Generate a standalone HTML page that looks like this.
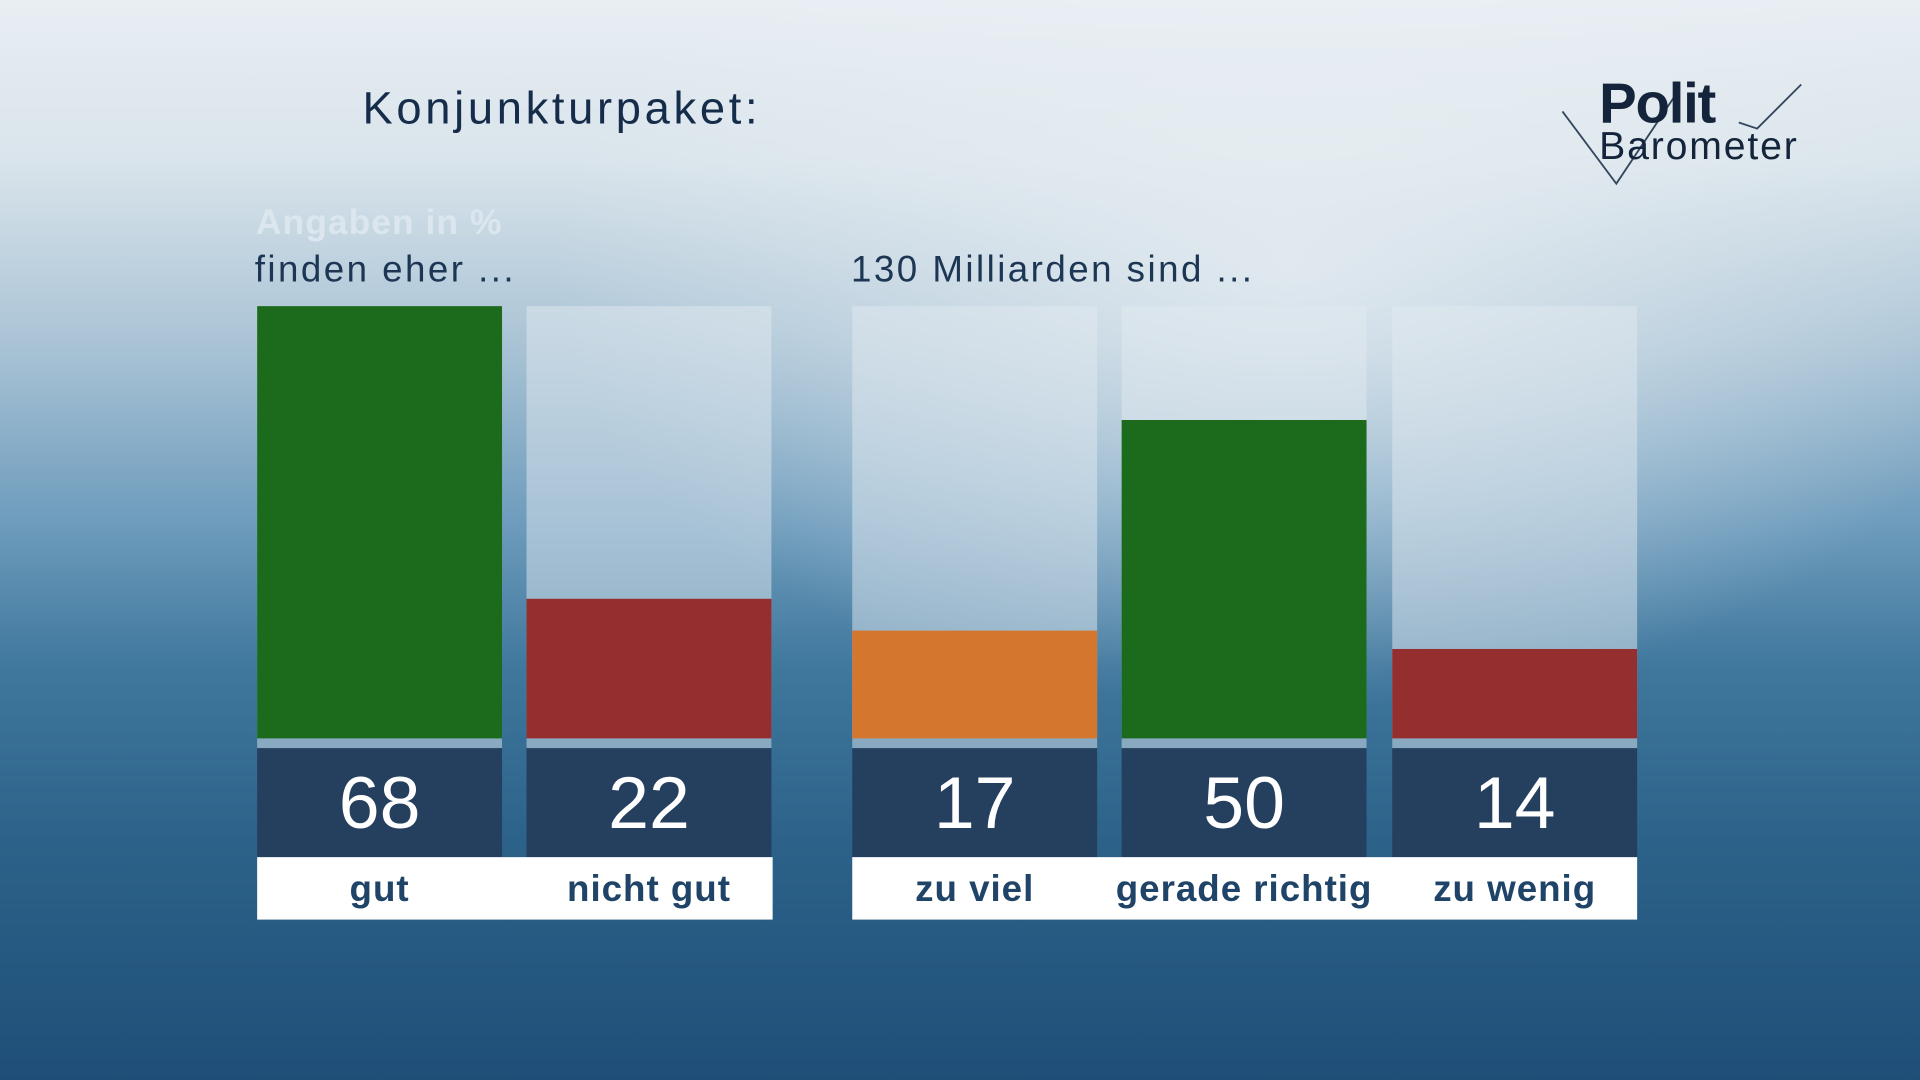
<!DOCTYPE html>
<html><head><meta charset="utf-8">
<style>
html,body{margin:0;padding:0;width:1920px;height:1080px;overflow:hidden;}
#stage{position:absolute;left:0;top:0;width:1568px;height:882px;transform:scale(1.2244898);transform-origin:0 0;
background:linear-gradient(180deg,#e8eef3 0%,#d9e4eb 15%,#a9c3d5 32%,#6f9dbd 48%,#3f779d 62%,#2c6289 78%,#1f4f78 100%);
font-family:"Liberation Sans",sans-serif;overflow:hidden;}
#glow{position:absolute;left:0;top:0;width:1568px;height:882px;
background:radial-gradient(ellipse 800px 480px at 1050px 220px,rgba(236,241,245,0.75),rgba(236,241,245,0) 75%);}
.t{position:absolute;white-space:nowrap;}
.panel{position:absolute;background:rgba(225,234,240,0.5);}
.strip{position:absolute;background:rgba(190,208,222,0.6);}
.bar{position:absolute;}
.num{position:absolute;background:#253f5e;color:#fff;font-size:60px;text-align:center;line-height:89px;}
.lab{position:absolute;background:#fff;color:#1f4468;font-weight:bold;font-size:30px;text-align:center;line-height:54px;letter-spacing:0.8px;}
</style></head><body>
<div id="stage">
<div id="glow"></div>
<div class="t" style="left:296px;top:68px;font-size:37px;color:#152c4a;letter-spacing:3px;">Konjunkturpaket:</div>
<div class="t" style="left:209px;top:166px;font-size:29px;font-weight:bold;color:#dbe6ee;letter-spacing:0.8px;">Angaben in %</div>
<div class="t" style="left:208px;top:204px;font-size:30px;color:#1c3654;letter-spacing:2px;">finden eher ...</div>
<div class="t" style="left:695px;top:204px;font-size:30px;color:#1c3654;letter-spacing:2px;">130 Milliarden sind ...</div>
<div style="position:absolute;left:1270px;top:55px;width:210px;height:100px;">
<svg width="210" height="100" style="position:absolute;left:0;top:0">
<polyline points="6,36 50,95 100,20" fill="none" stroke="#33475e" stroke-width="1.5"/>
<polyline points="150,45 165,50 201,14" fill="none" stroke="#33475e" stroke-width="1.5"/>
</svg>
<div class="t" style="left:36px;top:2px;font-size:46px;font-weight:bold;color:#14243a;letter-spacing:-1px;">Polit</div>
<div class="t" style="left:36px;top:46px;font-size:32px;color:#14243a;letter-spacing:1.5px;">Barometer</div>
</div>
<div id="chart"></div>
</div>
<script>
const categories=["gut","nicht gut","zu viel","gerade richtig","zu wenig"];
const values=[68,22,17,50,14];
const colors=["#1c6b1c","#952f2f","#d5762e","#1c6b1c","#952f2f"];
const colLeft=[210,430,696,916,1137];
const colW=200, baseY=603, topY=250, maxVal=68;
function y(v){return baseY-(v/maxVal)*(baseY-topY);}
const chart=document.getElementById('chart');
function mk(cls,l,t,w,h){const d=document.createElement('div');d.className=cls;d.style.left=l+'px';d.style.top=t+'px';d.style.width=w+'px';d.style.height=h+'px';chart.appendChild(d);return d;}
categories.forEach((c,i)=>{
  const x=colLeft[i];
  const p=mk('panel',x,topY,colW,baseY-topY);
  
  
  const s=mk('strip',x,baseY,colW,8);
  
  
  const b=mk('bar',x,y(values[i]),colW,baseY-y(values[i]));
  b.style.background=colors[i];
  
  
  const n=mk('num',x,611,colW,89);
  n.textContent=values[i];
  
  
});
[[210,421],[696,641]].forEach((g,k)=>{
  const r=mk('lab',g[0],700,g[1],51);
  
  
});
categories.forEach((c,i)=>{
  const l=mk('lab',colLeft[i]-10,700,colW+20,51);
  l.style.background='transparent';
  l.textContent=c;
  
  
});
</script>
</body></html>
